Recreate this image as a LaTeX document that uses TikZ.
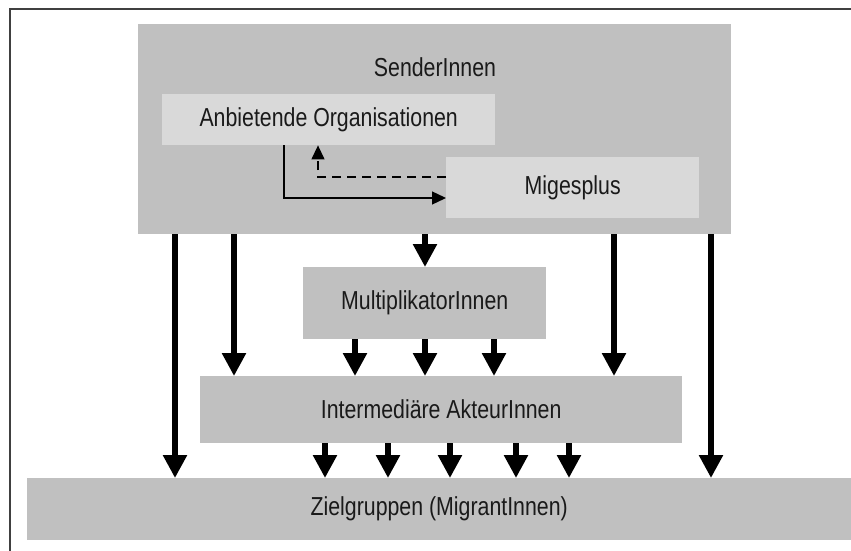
\documentclass[tikz,border=0pt]{standalone}
\usepackage{fontspec}
\setmainfont{Liberation Sans}[FakeStretch=0.82]
\usetikzlibrary{arrows.meta,positioning,calc}
\definecolor{boxgray}{HTML}{C0C0C0}
\definecolor{lightbox}{HTML}{D9D9D9}
\definecolor{framegray}{HTML}{404040}
\definecolor{textgray}{HTML}{1A1A1A}

\begin{document}
\begin{tikzpicture}[x=1pt,y=-1pt,every node/.style={font=\fontsize{26}{30}\selectfont,text=textgray,align=center,inner sep=0pt,anchor=north west},
  bigbox/.style={fill=boxgray},
  smallbox/.style={fill=lightbox},
  bigarrow/.style={-{Triangle[width=23pt,length=23pt]},line width=5.5pt},
  smallarrow/.style={-{Triangle[width=13pt,length=14pt]},line width=1.3pt}]
\useasboundingbox (0,0) rectangle (851,551);
\draw[framegray,line width=2pt] (10,560) |- (860,9);
% senders
\node[bigbox,minimum width=593pt,minimum height=210pt] (sender) at (138,24) {};
\node[anchor=center] (sendertext) at (435,67) {SenderInnen};
\node[smallbox,minimum width=333pt,minimum height=51pt] (anb) at (162,94) {Anbietende Organisationen};
\node[smallbox,minimum width=253pt,minimum height=61pt] (miges) at (446,157) {Migesplus};
\draw[smallarrow] (anb.south -| 284,0) |- (miges.west |- 0,198);
\draw[smallarrow,dash pattern=on 9pt off 6pt] (miges.west |- 0,177) -| (anb.south -| 318,0);
% lower levels
\node[bigbox,minimum width=243pt,minimum height=72pt] (multi) at (303,267) {MultiplikatorInnen};
\node[bigbox,minimum width=482pt,minimum height=67pt] (inter) at (200,376) {Intermediäre AkteurInnen};
\node[bigbox,minimum width=824pt,minimum height=62pt] (ziel) at (27,478) {Zielgruppen (MigrantInnen)};
\foreach \x in {175,711}
  \draw[bigarrow] (sender.south -| \x,0) -- (ziel.north -| \x,0);
\foreach \x in {234,614}
  \draw[bigarrow] (sender.south -| \x,0) -- (inter.north -| \x,0);
\draw[bigarrow] (sender.south -| 425,0) -- (multi.north -| 425,0);
\foreach \x in {355,425,494}
  \draw[bigarrow] (multi.south -| \x,0) -- (inter.north -| \x,0);
\foreach \x in {325,388,450,516,569}
  \draw[bigarrow] (inter.south -| \x,0) -- (ziel.north -| \x,0);
\end{tikzpicture}
\end{document}
